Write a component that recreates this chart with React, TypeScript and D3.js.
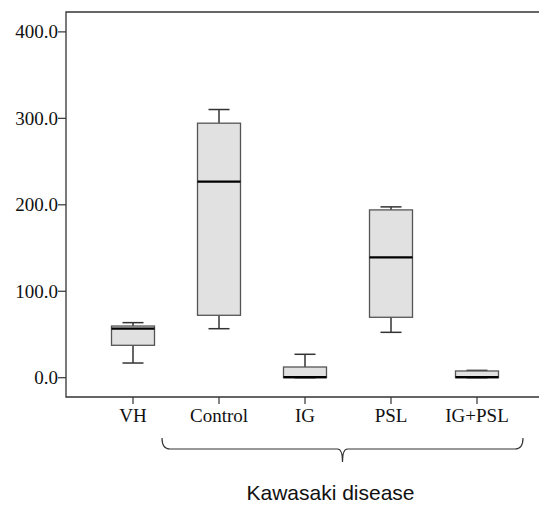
import React, { useRef, useEffect } from 'react';
import * as d3 from 'd3';

const categories = ['VH', 'Control', 'IG', 'PSL', 'IG+PSL'];
const whiskerLow = [17, 56.7, 0, 52.5, 0];
const q1 = [37.5, 72.2, 0, 69.9, 0];
const median = [56.7, 226.9, 0.8, 139.3, 0.8];
const q3 = [59.8, 294.4, 12.4, 194.1, 7.8];
const whiskerHigh = [63.7, 310.2, 27.1, 197.6, 8.5];
const yTicks = [0, 100, 200, 300, 400];
const groupLabel = 'Kawasaki disease';

const App = () => {
    const svgRef = useRef<SVGSVGElement>(null);

    useEffect(() => {
        if (!svgRef.current) return;
        const svg = d3.select(svgRef.current);
        svg.selectAll('*').remove();

        const width = 539;
        const height = 507;
        const left = 66;
        const top = 12;
        const bottom = 397;

        const x = d3.scalePoint<string>().domain(categories).range([133, 477]);
        const y = d3.scaleLinear().domain([-22.3, 423]).range([bottom, top]);
        const boxW = 43;
        const capW = 19;

        svg.attr('width', width).attr('height', height);

        // frame
        svg.append('path')
            .attr('d', `M${width + 5},${top}H${left}V${bottom}H${width + 5}`)
            .attr('fill', 'none')
            .attr('stroke', '#333')
            .attr('stroke-width', 1.3);

        // y ticks
        const yt = svg.append('g');
        yt.selectAll('line').data(yTicks).enter().append('line')
            .attr('x1', left - 8).attr('x2', left)
            .attr('y1', d => y(d)).attr('y2', d => y(d))
            .attr('stroke', '#333').attr('stroke-width', 1.2);
        yt.selectAll('text').data(yTicks).enter().append('text')
            .attr('x', left - 8).attr('y', d => y(d))
            .attr('dy', '0.34em')
            .attr('text-anchor', 'end')
            .style('font-family', '"Liberation Serif", "Times New Roman", serif')
            .style('font-size', '19px')
            .attr('fill', '#111')
            .text(d => d.toFixed(1));

        // x ticks
        const xt = svg.append('g');
        xt.selectAll('line').data(categories).enter().append('line')
            .attr('x1', d => x(d)!).attr('x2', d => x(d)!)
            .attr('y1', bottom).attr('y2', bottom + 7)
            .attr('stroke', '#333').attr('stroke-width', 1.2);
        xt.selectAll('text').data(categories).enter().append('text')
            .attr('x', d => x(d)!).attr('y', 422)
            .attr('text-anchor', 'middle')
            .style('font-family', '"Liberation Serif", "Times New Roman", serif')
            .style('font-size', '19px')
            .attr('fill', '#111')
            .text(d => d);

        // boxes
        const boxes = svg.append('g').selectAll('g').data(categories).enter().append('g');
        boxes.append('line')
            .attr('x1', d => x(d)!).attr('x2', d => x(d)!)
            .attr('y1', (d, i) => y(whiskerHigh[i])).attr('y2', (d, i) => y(q3[i]))
            .attr('stroke', '#333').attr('stroke-width', 1.5);
        boxes.append('line')
            .attr('x1', d => x(d)!).attr('x2', d => x(d)!)
            .attr('y1', (d, i) => y(whiskerLow[i])).attr('y2', (d, i) => y(q1[i]))
            .attr('stroke', '#333').attr('stroke-width', 1.5);
        boxes.append('line')
            .attr('x1', d => x(d)! - capW / 2 - 1).attr('x2', d => x(d)! + capW / 2 + 1)
            .attr('y1', (d, i) => y(whiskerHigh[i])).attr('y2', (d, i) => y(whiskerHigh[i]))
            .attr('stroke', '#333').attr('stroke-width', 1.5);
        boxes.append('line')
            .attr('x1', d => x(d)! - capW / 2 - 1).attr('x2', d => x(d)! + capW / 2 + 1)
            .attr('y1', (d, i) => y(whiskerLow[i])).attr('y2', (d, i) => y(whiskerLow[i]))
            .attr('stroke', '#333').attr('stroke-width', 1.5);
        boxes.append('rect')
            .attr('x', d => x(d)! - boxW / 2)
            .attr('width', boxW)
            .attr('y', (d, i) => y(q3[i]))
            .attr('height', (d, i) => y(q1[i]) - y(q3[i]))
            .attr('fill', '#e1e1e1')
            .attr('stroke', '#555')
            .attr('stroke-width', 1.3);
        boxes.append('line')
            .attr('x1', d => x(d)! - boxW / 2).attr('x2', d => x(d)! + boxW / 2)
            .attr('y1', (d, i) => y(median[i])).attr('y2', (d, i) => y(median[i]))
            .attr('stroke', '#000').attr('stroke-width', 2.2);

        // brace under treated groups
        const bx0 = x(categories[1])! - 57;
        const bx1 = x(categories[4])! + 46;
        const bm = (bx0 + bx1) / 2;
        const by = 449;
        svg.append('path')
            .attr('d', `M${bx0},${by - 11} Q${bx0},${by} ${bx0 + 8},${by} H${bm - 5} Q${bm},${by} ${bm},${by + 13} Q${bm},${by} ${bm + 5},${by} H${bx1 - 8} Q${bx1},${by} ${bx1},${by - 11}`)
            .attr('fill', 'none')
            .attr('stroke', '#333')
            .attr('stroke-width', 1.2);

        svg.append('text')
            .attr('x', bm - 12).attr('y', 500)
            .attr('text-anchor', 'middle')
            .style('font-family', '"Liberation Sans", Arial, sans-serif')
            .style('font-size', '21px')
            .attr('fill', '#111')
            .text(groupLabel);
    }, []);

    return (
        <svg ref={svgRef} style={{ position: 'absolute', left: 0, top: 0, background: '#fff' }}></svg>
    );
};

export default App;
